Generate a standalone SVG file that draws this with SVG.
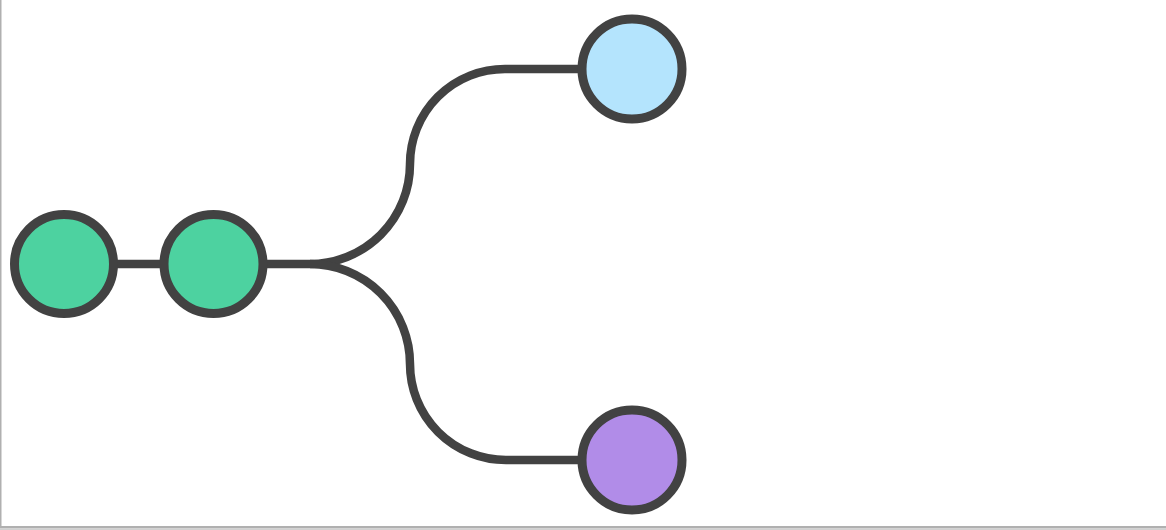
<svg xmlns="http://www.w3.org/2000/svg" width="1166" height="530" viewBox="0 0 1166 530">
  <style>
    .edge { fill: none; stroke: #424242; stroke-width: 8.5; stroke-linecap: butt; }
    .node { stroke: #424242; stroke-width: 9; }
    .green { fill: #4dd2a0; }
    .blue { fill: #b4e4fd; }
    .purple { fill: #b18ce8; }
  </style>
  <rect x="0" y="0" width="1166" height="530" fill="#ffffff"/>
  <rect x="0" y="0" width="1.5" height="527" fill="#b0b0b0"/>
  <rect x="0" y="526" width="1166" height="2.5" fill="#b0b0b0"/>
  <rect x="0" y="528.5" width="1166" height="1.5" fill="#d0d0d0"/>
  <g id="connectors">
    <path class="edge" d="M 64 264 H 213"/>
    <path class="edge" d="M 213 264 H 310 A 100 100 0 0 0 410 164 A 95 95 0 0 1 505 69 H 632"/>
    <path class="edge" d="M 310 264 A 100 100 0 0 1 410 364 A 96 96 0 0 0 506 460 H 632"/>
  </g>
  <g id="node1"><circle class="node green" cx="64" cy="264" r="49.5"/></g>
  <g id="node2"><circle class="node green" cx="213.5" cy="264" r="49.5"/></g>
  <g id="node3"><circle class="node blue" cx="632" cy="69" r="50"/></g>
  <g id="node4"><circle class="node purple" cx="632" cy="460" r="50"/></g>
</svg>
